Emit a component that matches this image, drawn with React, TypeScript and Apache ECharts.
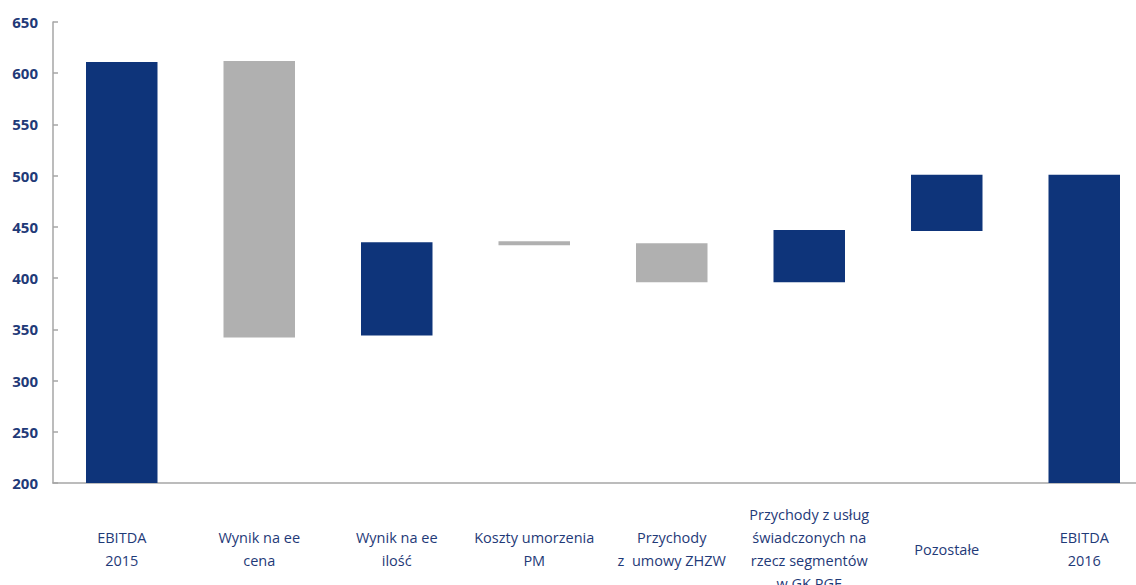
import React, { useEffect, useRef } from "react";
import * as echarts from "echarts";

const categories = [
  "EBITDA\n2015",
  "Wynik na ee\ncena",
  "Wynik na ee\nilość",
  "Koszty umorzenia\nPM",
  "Przychody\nz  umowy ZHZW",
  "Przychody z usług\nświadczonych na\nrzecz segmentów\nw GK PGE",
  "Pozostałe",
  "EBITDA\n2016",
];
// waterfall steps: value where each bar starts and ends
const barStart = [200, 612, 344, 436, 434, 396, 446, 200];
const barEnd = [611, 342, 435, 432, 396, 447, 501, 501];
const yTicks = { min: 200, max: 650, interval: 50 };

const BLUE = "#0E347A";
const GREY = "#B0B0B0";
const TEXT = "#1F3A78";

export default function App() {
  const ref = useRef<HTMLDivElement>(null);
  useEffect(() => {
    if (!ref.current) return;
    const chart = echarts.init(ref.current, undefined, { renderer: "svg" });
    const base = barStart.map((s, i) => Math.min(s, barEnd[i]));
    const size = barStart.map((s, i) => Math.abs(barEnd[i] - s));
    chart.setOption({
      animation: false,
      grid: { left: 53, top: 22, height: 461, width: 1100, containLabel: false, outerBoundsMode: "none" },
      xAxis: {
        type: "category",
        data: categories,
        axisLine: { lineStyle: { color: "#A6A6A6", width: 1.5 } },
        axisTick: { show: false },
        axisLabel: {
          interval: 0,
          color: TEXT,
          fontFamily: "Open Sans",
          fontSize: 14.5,
          lineHeight: 23,
          verticalAlign: "middle",
          margin: 66,
        },
      },
      yAxis: {
        type: "value",
        min: yTicks.min,
        max: yTicks.max,
        interval: yTicks.interval,
        splitLine: { show: false },
        axisLine: { show: true, lineStyle: { color: "#A6A6A6", width: 1.5 } },
        axisTick: { show: true, inside: true, length: 5, lineStyle: { color: "#A6A6A6", width: 1.5 } },
        axisLabel: {
          color: TEXT,
          fontFamily: "Open Sans",
          fontWeight: "bold",
          fontSize: 15,
          margin: 15,
        },
      },
      series: [
        {
          type: "bar",
          stack: "w",
          data: base,
          itemStyle: { color: "transparent" },
          barWidth: "52%",
          silent: true,
        },
        {
          type: "bar",
          stack: "w",
          data: size.map((v, i) => ({
            value: v,
            itemStyle: { color: barEnd[i] < barStart[i] ? GREY : BLUE },
          })),
          barWidth: "52%",
        },
      ],
    });
    return () => chart.dispose();
  }, []);
  return (
    <div
      ref={ref}
      style={{ position: "fixed", left: 0, top: 0, width: 1136, height: 585, background: "#fff" }}
    />
  );
}
